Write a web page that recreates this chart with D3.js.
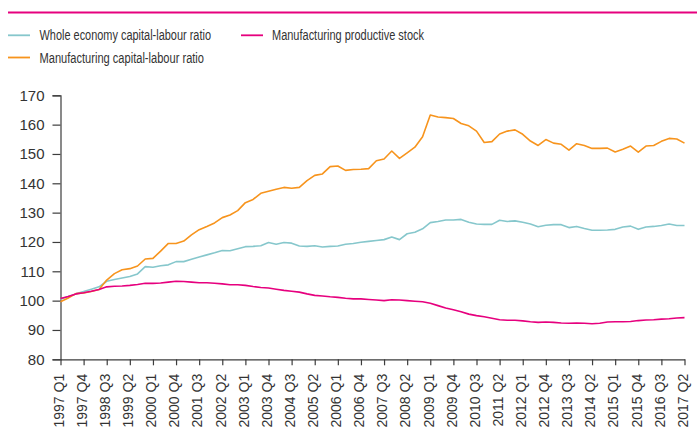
<!DOCTYPE html>
<html>
<head>
<meta charset="utf-8">
<script src="https://cdn.jsdelivr.net/npm/d3@7"></script>
<style>
  html, body { margin: 0; padding: 0; background: #fff; overflow: hidden; }
  svg { display: block; }
</style>
</head>
<body>
<svg id="chart" width="697" height="428"></svg>
<script>
const quarters = [
  "1997 Q1","1997 Q2","1997 Q3","1997 Q4","1998 Q1","1998 Q2","1998 Q3","1998 Q4",
  "1999 Q1","1999 Q2","1999 Q3","1999 Q4","2000 Q1","2000 Q2","2000 Q3","2000 Q4",
  "2001 Q1","2001 Q2","2001 Q3","2001 Q4","2002 Q1","2002 Q2","2002 Q3","2002 Q4",
  "2003 Q1","2003 Q2","2003 Q3","2003 Q4","2004 Q1","2004 Q2","2004 Q3","2004 Q4",
  "2005 Q1","2005 Q2","2005 Q3","2005 Q4","2006 Q1","2006 Q2","2006 Q3","2006 Q4",
  "2007 Q1","2007 Q2","2007 Q3","2007 Q4","2008 Q1","2008 Q2","2008 Q3","2008 Q4",
  "2009 Q1","2009 Q2","2009 Q3","2009 Q4","2010 Q1","2010 Q2","2010 Q3","2010 Q4",
  "2011 Q1","2011 Q2","2011 Q3","2011 Q4","2012 Q1","2012 Q2","2012 Q3","2012 Q4",
  "2013 Q1","2013 Q2","2013 Q3","2013 Q4","2014 Q1","2014 Q2","2014 Q3","2014 Q4",
  "2015 Q1","2015 Q2","2015 Q3","2015 Q4","2016 Q1","2016 Q2","2016 Q3","2016 Q4",
  "2017 Q1","2017 Q2"
];

const tickLabels = [
  "1997 Q1","1997 Q4","1998 Q3","1999 Q2","2000 Q1","2000 Q4","2001 Q3","2002 Q2",
  "2003 Q1","2003 Q4","2004 Q3","2005 Q2","2006 Q1","2006 Q4","2007 Q3","2008 Q2",
  "2009 Q1","2009 Q4","2010 Q3","2011 Q2","2012 Q1","2012 Q4","2013 Q3","2014 Q2",
  "2015 Q1","2015 Q4","2016 Q3","2017 Q2"
];

const yTicks = [80, 90, 100, 110, 120, 130, 140, 150, 160, 170];

const wholeEconomy = [
  100.5,101.4,102.3,103.1,103.9,104.7,106.6,107.2,107.7,108.2,
  109.1,111.6,111.4,111.9,112.2,113.3,113.3,114.1,114.9,115.6,
  116.3,117.1,117.0,117.7,118.4,118.5,118.7,119.8,119.2,119.8,
  119.6,118.6,118.5,118.7,118.3,118.5,118.6,119.2,119.5,119.9,
  120.2,120.5,120.8,121.7,120.8,122.8,123.3,124.5,126.6,127.0,
  127.5,127.5,127.7,126.7,126.1,126.0,126.0,127.4,127.0,127.2,
  126.7,126.1,125.2,125.7,125.9,125.9,124.9,125.3,124.6,124.0,
  124.0,124.1,124.3,125.1,125.4,124.3,125.1,125.3,125.6,126.1,
  125.6,125.6
];

const manufacturingRatio = [
  99.6,100.9,102.4,102.6,103.1,103.8,107.0,109.2,110.5,110.9,
  111.8,114.2,114.4,116.9,119.5,119.5,120.3,122.4,124.2,125.3,
  126.5,128.3,129.2,130.7,133.4,134.5,136.6,137.3,138.0,138.6,
  138.3,138.6,140.9,142.7,143.2,145.7,145.9,144.4,144.7,144.8,
  145.0,147.7,148.3,151.0,148.5,150.4,152.3,155.9,163.3,162.6,
  162.4,162.1,160.4,159.6,157.8,153.9,154.2,156.8,157.8,158.2,
  156.7,154.4,152.9,154.9,153.7,153.3,151.3,153.5,152.9,151.9,
  151.9,152.0,150.7,151.6,152.7,150.6,152.7,152.9,154.3,155.3,
  155.1,153.7
];

const manufacturingStock = [
  100.7,101.4,102.3,102.7,103.2,103.8,104.7,104.9,105.0,105.2,
  105.5,105.9,105.9,106.0,106.3,106.6,106.5,106.3,106.1,106.1,
  105.9,105.7,105.4,105.4,105.2,104.8,104.5,104.3,103.9,103.5,
  103.2,102.9,102.3,101.8,101.6,101.3,101.1,100.8,100.6,100.6,
  100.4,100.2,100.0,100.3,100.2,100.0,99.8,99.6,99.1,98.3,
  97.5,96.9,96.2,95.4,94.9,94.5,94.0,93.5,93.3,93.3,
  93.1,92.8,92.6,92.7,92.6,92.4,92.3,92.4,92.3,92.1,
  92.3,92.7,92.8,92.8,92.9,93.2,93.4,93.5,93.7,93.8,
  94.1,94.2
];

const seriesNames = [
  "Whole economy capital-labour ratio",
  "Manufacturing capital-labour ratio",
  "Manufacturing productive stock"
];
const seriesColors = ["#86c7cc", "#f7941d", "#e6007e"];

const svg = d3.select("#chart");
const plotLeft = 60.5, plotRight = 684.5, plotTop = 95.3, plotBottom = 359.3;

// top rule
svg.append("line")
  .attr("x1", 8).attr("x2", 697).attr("y1", 12.5).attr("y2", 12.5)
  .attr("stroke", "#e6007e").attr("stroke-width", 2.2);

const x = d3.scalePoint().domain(quarters).range([plotLeft, plotRight]);
const y = d3.scaleLinear().domain([80, 170]).range([plotBottom, plotTop]);

const axisColor = "#3d3d3d";
const tickFont = "'Liberation Sans', Arial, sans-serif";

// y axis
const yAxis = svg.append("g")
  .attr("transform", `translate(${plotLeft},0)`)
  .call(d3.axisLeft(y).tickValues(yTicks).tickSize(8).tickPadding(8).tickFormat(d3.format("d")));
yAxis.select(".domain").attr("stroke", axisColor).attr("stroke-width", 1.2);
yAxis.selectAll(".tick line").attr("stroke", axisColor).attr("stroke-width", 1.2);
yAxis.selectAll("text").attr("fill", "#333").style("font-family", tickFont).style("font-size", "15px");

// x axis
const xAxis = svg.append("g")
  .attr("transform", `translate(0,${plotBottom})`)
  .call(d3.axisBottom(x).tickValues(tickLabels).tickSize(6).tickSizeOuter(0));
xAxis.select(".domain").attr("stroke", axisColor).attr("stroke-width", 1.2);
xAxis.selectAll(".tick line").attr("stroke", axisColor).attr("stroke-width", 1.2);
xAxis.selectAll("text")
  .attr("fill", "#333")
  .style("font-family", tickFont).style("font-size", "14px")
  .attr("transform", "rotate(-90)")
  .attr("text-anchor", "end")
  .attr("x", -14.5).attr("y", 0).attr("dy", "0.2em");

// lines
const allSeries = [wholeEconomy, manufacturingRatio, manufacturingStock];
const lineGen = d3.line().x((d, i) => x(quarters[i])).y(d => y(d));
[0, 1, 2].forEach(k => {
  svg.append("path")
    .datum(allSeries[k])
    .attr("fill", "none")
    .attr("stroke", seriesColors[k])
    .attr("stroke-width", 1.6)
    .attr("stroke-linejoin", "round")
    .attr("d", lineGen);
});

// legend
const legendFont = "'Liberation Sans', Arial, sans-serif";
const legendItems = [
  { name: seriesNames[0], color: seriesColors[0], sx: 8, tx: 39.5, cy: 35.3, w: 171.5 },
  { name: seriesNames[1], color: seriesColors[1], sx: 8, tx: 39.5, cy: 57.5, w: 164.5 },
  { name: seriesNames[2], color: seriesColors[2], sx: 241, tx: 272, cy: 35.3, w: 152 }
];
const lg = svg.append("g");
legendItems.forEach(it => {
  lg.append("line")
    .attr("x1", it.sx).attr("x2", it.sx + 22)
    .attr("y1", it.cy).attr("y2", it.cy)
    .attr("stroke", it.color).attr("stroke-width", 1.8);
  lg.append("text")
    .attr("x", it.tx).attr("y", it.cy + 5)
    .attr("fill", "#333")
    .attr("textLength", it.w)
    .attr("lengthAdjust", "spacingAndGlyphs")
    .style("font-family", legendFont).style("font-size", "14px")
    .text(it.name);
});
</script>
</body>
</html>
